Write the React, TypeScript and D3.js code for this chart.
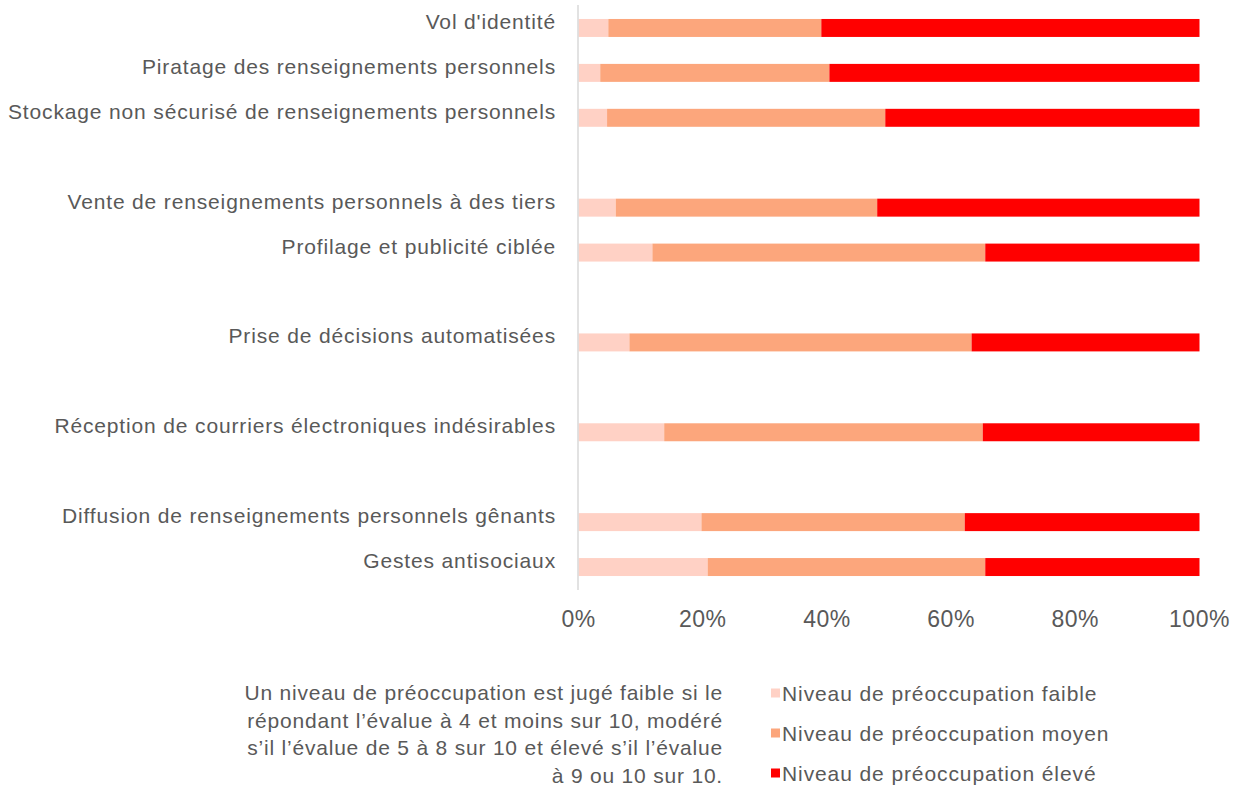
import React from 'react';
import * as d3 from 'd3';

// null = empty slot between groups
const categories: (string | null)[] = [
  "Vol d'identité",
  'Piratage des renseignements personnels',
  'Stockage non sécurisé de renseignements personnels',
  null,
  'Vente de renseignements personnels à des tiers',
  'Profilage et publicité ciblée',
  null,
  'Prise de décisions automatisées',
  null,
  'Réception de courriers électroniques indésirables',
  null,
  'Diffusion de renseignements personnels gênants',
  'Gestes antisociaux',
];

const faible = [4.8, 3.5, 4.6, 6.0, 11.9, 8.2, 13.8, 19.8, 20.8];
const moyen = [34.3, 36.9, 44.8, 42.1, 53.6, 55.1, 51.3, 42.4, 44.7];
const eleve = [60.9, 59.6, 50.6, 51.9, 34.5, 36.7, 34.9, 37.8, 34.5];

const seriesKeys = ['faible', 'moyen', 'eleve'];
const seriesLabels = [
  'Niveau de préoccupation faible',
  'Niveau de préoccupation moyen',
  'Niveau de préoccupation élevé',
];
const seriesColors = ['#FFD1C5', '#FCA67C', '#FF0000'];

const xTicks = [0, 20, 40, 60, 80, 100];

const noteLines = [
  'Un niveau de préoccupation est jugé faible si le',
  'répondant l’évalue à 4 et moins sur 10, modéré',
  's’il l’évalue de 5 à 8 sur 10 et élevé s’il l’évalue',
  'à 9 ou 10 sur 10.',
];

const W = 1239;
const H = 788;
const FONT = '"Liberation Sans", Arial, sans-serif';
const TEXT = '#595959';

const App: React.FC = () => {
  const slots = categories.map((_, i) => i);
  const filled = slots.filter((i) => categories[i] !== null);

  const rows = filled.map((slot, j) => ({
    slot,
    label: categories[slot] as string,
    faible: faible[j],
    moyen: moyen[j],
    eleve: eleve[j],
  }));

  const x = d3.scaleLinear().domain([0, 100]).range([578.5, 1199.5]);
  const y = d3
    .scaleBand<number>()
    .domain(slots)
    .range([5.5, 589.5])
    .paddingInner(0.6)
    .paddingOuter(0.3);

  const stacked = d3.stack<any>().keys(seriesKeys)(rows);

  return (
    <svg
      width={W}
      height={H}
      style={{ position: 'absolute', left: 0, top: 0, background: '#fff' }}
      fontFamily={FONT}
    >
      {/* bars */}
      {stacked.map((layer, si) => (
        <g key={layer.key} fill={seriesColors[si]}>
          {layer.map((d) => (
            <rect
              key={d.data.slot}
              x={x(d[0])}
              y={y(d.data.slot)}
              width={x(d[1]) - x(d[0])}
              height={y.bandwidth()}
            />
          ))}
        </g>
      ))}

      {/* axis line */}
      <line x1={578} x2={578} y1={5} y2={590} stroke="#D9D9D9" strokeWidth={1.5} />

      {/* category labels */}
      {rows.map((r) => (
        <text
          key={r.slot}
          x={556}
          y={(y(r.slot) as number) + y.bandwidth() / 2 + 1}
          textAnchor="end"
          fontSize={21}
          letterSpacing={0.85}
          fill={TEXT}
        >
          {r.label}
        </text>
      ))}

      {/* x tick labels */}
      {xTicks.map((t) => (
        <text
          key={t}
          x={x(t)}
          y={627}
          textAnchor="middle"
          fontSize={23}
          letterSpacing={0.5}
          fill={TEXT}
        >
          {t}%
        </text>
      ))}

      {/* note */}
      {noteLines.map((line, i) => (
        <text
          key={i}
          x={723}
          y={700 + i * 27.7}
          textAnchor="end"
          fontSize={21}
          letterSpacing={0.8}
          fill={TEXT}
        >
          {line}
        </text>
      ))}

      {/* legend */}
      {seriesLabels.map((label, i) => (
        <g key={label} transform={`translate(771, ${693 + i * 40})`}>
          <rect x={0} y={-4.5} width={9} height={9} fill={seriesColors[i]} />
          <text x={11} y={7.5} fontSize={21} letterSpacing={0.9} fill={TEXT}>
            {label}
          </text>
        </g>
      ))}
    </svg>
  );
};

export default App;
